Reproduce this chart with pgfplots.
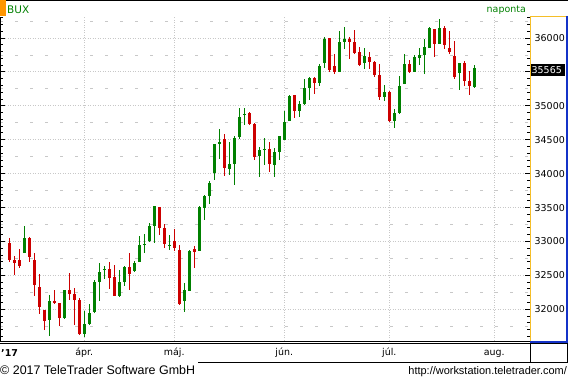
\documentclass[border=0pt]{standalone}
\usepackage{fontspec}
\setmainfont{DejaVu Sans}
\newfontfamily\lib{Liberation Sans}
\usepackage{pgfplots}
\pgfplotsset{compat=1.18}
\usepackage{pgfplotstable}
\definecolor{cup}{RGB}{0,128,0}
\definecolor{cdn}{RGB}{204,0,0}
\definecolor{gridc}{RGB}{200,200,200}
\definecolor{ylw}{RGB}{245,190,40}
\definecolor{blu}{RGB}{20,50,200}
\definecolor{org}{RGB}{255,150,0}
\newcommand{\tkf}{\fontsize{9.5}{11}\selectfont}

% up (green) candles: x open high low close
\pgfplotstableread{
x o h l c
3 32835 33228 32835 33052
8 31846 32211 31610 32122
11 31876 32284 31857 32284
15 31640 31975 31591 31783
16 31787 32078 31768 31945
17 31960 32432 31941 32402
18 32407 32683 32127 32550
19 32580 32638 32451 32594
22 32200 32580 32181 32402
23 32407 32638 32348 32624
25 32565 32712 32554 32683
26 32702 33081 32702 32948
27 32953 33115 32835 32967
28 33007 33273 32992 33228
29 33233 33528 32982 33523
32 32933 33100 32879 32948
35 32127 32392 31964 32284
36 32270 32875 32270 32860
38 32864 33523 32864 33513
39 33498 33686 33317 33671
40 33671 33892 33553 33863
41 34015 34438 33907 34438
42 34442 34659 34217 34467
44 34069 34467 33981 34143
45 34147 34556 33833 34526
46 34546 34969 34512 34836
47 34870 34969 34718 34880
50 34265 34394 33951 34349
51 34354 34526 34133 34364
53 34133 34379 33951 34320
54 34324 34560 34202 34556
55 34497 34929 34497 34767
56 34782 35161 34782 35146
58 34929 35072 34841 35028
59 35028 35397 35013 35260
60 35268 35431 35087 35411
62 35342 35618 35298 35588
63 35637 36016 35563 35987
66 35504 36105 35504 35942
67 35947 36164 35839 35987
71 35637 35854 35549 35736
75 35131 35308 35072 35205
77 34782 34954 34678 34895
78 34895 35441 34885 35293
79 35319 35765 35319 35618
81 35500 35751 35500 35721
82 35706 35854 35603 35751
83 35751 35987 35470 35869
84 35854 36164 35854 36149
86 35913 36282 35913 36149
90 35485 35633 35235 35633
93 35279 35603 35264 35565
}\up

% down (red) candles: x open high low close
\pgfplotstableread{
x o h l c
0 32978 33052 32702 32731
1 32727 32786 32506 32687
2 32727 32885 32609 32643
4 33052 33066 32702 32776
5 32727 32830 32196 32363
6 32329 32520 31935 32038
7 31990 31990 31694 31832
9 32122 32284 32078 32093
10 32093 32093 31753 31876
12 32284 32535 32137 32230
13 32225 32314 31768 32141
14 32137 32162 31625 31635
20 32594 32697 32304 32466
21 32476 32653 32196 32200
24 32624 32830 32289 32525
30 33509 33513 33100 33203
31 33199 33258 32908 32967
33 33007 33184 32864 32908
34 32875 32948 32068 32078
37 32889 32938 32613 32845
43 34512 34585 33970 34088
48 34895 34906 34723 34737
49 34733 34743 34206 34251
52 34364 34467 34029 34147
57 35161 35161 34826 34929
61 35411 35426 35180 35342
64 36001 36001 35500 35529
65 35588 35765 35470 35504
68 35987 36016 35692 35947
69 35942 36119 35765 35780
70 35795 35869 35588 35603
72 35721 35795 35544 35652
73 35647 35662 35431 35456
74 35456 35618 35087 35136
76 35205 35220 34767 34782
80 35618 35677 35485 35500
85 36134 36134 35721 35913
87 36149 36179 35839 35898
88 35854 36105 35765 35795
89 35736 35957 35397 35426
91 35633 35662 35293 35367
92 35367 35515 35161 35293
}\down

\begin{document}
\begin{tikzpicture}
\path[use as bounding box] (0bp,0bp) rectangle (568bp,377bp);
\begin{axis}[
  at={(0bp,36bp)}, anchor=south west,
  scale only axis, width=530bp, height=324bp,
  xmin=-1.86, xmax=104.14, ymin=31532, ymax=36311,
  axis line style={draw=none},
  xtick={15,33,55,76,97},
  xticklabels={ápr.,máj.,jún.,júl.,aug.},
  xtick style={draw=none},
  xticklabel style={anchor=base, yshift=-15bp, font=\tkf},
  xmajorgrids, ymajorgrids,
  major grid style={draw=gridc, line width=1bp, dash pattern=on 1bp off 1.5bp},
  ytick={32000,32500,33000,33500,34000,34500,35000,35500,36000},
  yticklabels={32000,32500,33000,33500,34000,34500,35000,,36000},
  scaled y ticks=false,
  minor ytick={31600,31700,...,36300},
  yticklabel pos=right, ytick pos=both,
  ytick style={draw=black, line width=1bp},
  major tick length=5bp, minor tick length=3bp,
  tick align=inside,
  yticklabel style={anchor=east, xshift=35bp, inner sep=0pt, font=\tkf},
  extra y ticks={31750,32250,...,36250},
  extra y tick labels={},
  extra y tick style={major tick length=0pt, grid=major,
     major grid style={draw=gridc, line width=1bp, dash pattern=on 3bp off 12bp}},
]
% wicks
\addplot[draw=none, mark=none, forget plot,
  error bars/.cd, y dir=plus, y explicit, error mark=none,
  error bar style={draw=cup, line width=1bp}]
  table[x=x, y=l, y error expr=\thisrow{h}-\thisrow{l}] {\up};
\addplot[draw=none, mark=none, forget plot,
  error bars/.cd, y dir=plus, y explicit, error mark=none,
  error bar style={draw=cdn, line width=1bp}]
  table[x=x, y=l, y error expr=\thisrow{h}-\thisrow{l}] {\down};
% bodies
\addplot[draw=none, mark=none, forget plot,
  error bars/.cd, y dir=plus, y explicit, error mark=none,
  error bar style={draw=cup, line width=3.2bp}]
  table[x=x, y=o, y error expr=\thisrow{c}-\thisrow{o}] {\up};
\addplot[draw=none, mark=none, forget plot,
  error bars/.cd, y dir=plus, y explicit, error mark=none,
  error bar style={draw=cdn, line width=3.2bp}]
  table[x=x, y=c, y error expr=\thisrow{o}-\thisrow{c}] {\down};
\end{axis}
% frame
\draw[black, line width=1bp] (0bp,376.5bp) -- (568bp,376.5bp);
\fill[org] (0bp,360.5bp) rectangle (5.5bp,377bp);
\draw[black, line width=1bp] (0.5bp,36bp) -- (0.5bp,360bp);
\draw[black, line width=1bp] (0bp,35.5bp) -- (530bp,35.5bp);
\draw[ylw, line width=1bp] (530.5bp,35bp) -- (530.5bp,360.5bp) -- (566bp,360.5bp);
\draw[blu, line width=2bp] (567bp,361bp) -- (567bp,35bp) -- (530bp,35bp);
\draw[black, line width=1bp] (0bp,33.5bp) -- (568bp,33.5bp);
\draw[black, line width=1bp] (530.5bp,33.5bp) -- (530.5bp,14.5bp);
\draw[black, line width=1bp] (567.5bp,33.5bp) -- (567.5bp,14.5bp);
\draw[black, line width=1bp] (198bp,14.5bp) -- (568bp,14.5bp);
% current value
\fill[black] (530.5bp,300.5bp) rectangle (564.5bp,312.5bp);
\node[anchor=base east, text=white, font=\tkf, inner sep=0pt] at (562bp,303bp) {35565};
% texts
\node[anchor=base west, text=cup, font=\fontsize{10.5}{12}\selectfont, inner sep=0pt] at (7bp,363.7bp) {BUX};
\node[anchor=base east, text=cup, font=\tkf, inner sep=0pt] at (526bp,364.3bp) {naponta};
\node[anchor=base west, font=\bfseries\tkf, inner sep=0pt] at (1bp,21bp) {’17};
\node[anchor=base west, font=\lib\fontsize{12.5}{14}\selectfont, inner sep=0pt] at (0bp,2.5bp) {© 2017 TeleTrader Software GmbH};
\node[anchor=base east, font=\lib\fontsize{11}{13}\selectfont, inner sep=0pt] at (567bp,2.5bp) {http://workstation.teletrader.com/};
\end{tikzpicture}
\end{document}
